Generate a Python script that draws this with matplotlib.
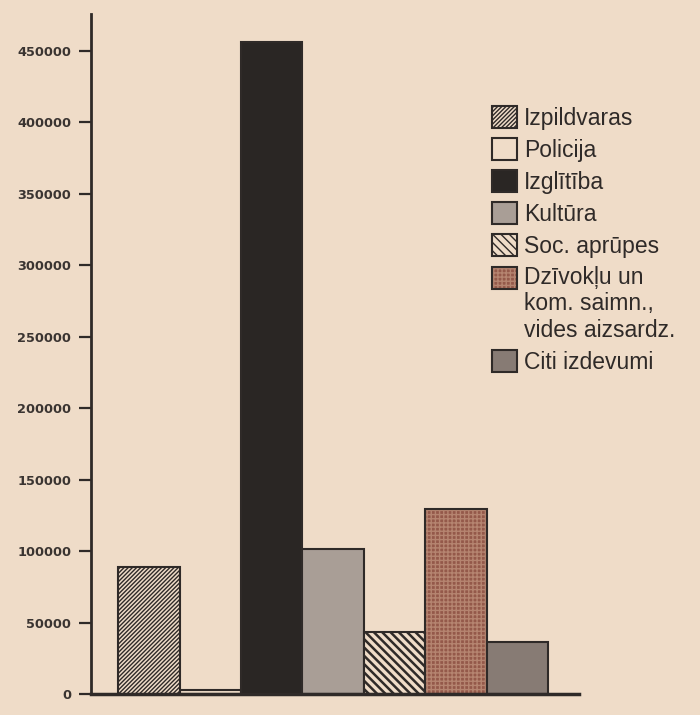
import matplotlib.pyplot as plt
from matplotlib.legend_handler import HandlerTuple

# budžeta izdevumi pa nozarēm
categories = ["Izpildvaras", "Policija", "Izglītība", "Kultūra", "Soc. aprūpes",
              "Dzīvokļu un\nkom. saimn.,\nvides aizsardz.", "Citi izdevumi"]
values = [89000, 3000, 456000, 102000, 44000, 130000, 37000]
y_ticks = [0, 50000, 100000, 150000, 200000, 250000, 300000, 350000, 400000, 450000]

paper = "#efdcc8"
ink = "#2f2a28"
fills = [paper, paper, "#2a2624", "#a99e96", paper, "#94594a", "#877b74"]
hatches = ["////////", None, None, None, "\\\\\\\\", "++++", None]
hatch_cols = [ink, ink, ink, ink, ink, "#b58470", ink]
hatch_lw = [1.0, 1.0, 1.0, 1.0, 1.8, 1.0, 1.0]


class TopHandler(HandlerTuple):
    # ruta pie pirmās rindas, ne vidū
    def create_artists(self, legend, orig_handle, xdescent, ydescent,
                       width, height, fontsize, trans):
        return super().create_artists(legend, orig_handle, xdescent,
                                      ydescent - 19.5, width, height,
                                      fontsize, trans)


fig = plt.figure(figsize=(7, 7.15), dpi=100, facecolor=paper)
ax = fig.add_axes([0.1294, 0.0287, 0.8270 - 0.1294, 0.981 - 0.0287])
ax.set_facecolor(paper)

handles = []
for i, (cat, v) in enumerate(zip(categories, values)):
    with plt.rc_context({'hatch.linewidth': hatch_lw[i]}):
        b = ax.bar(i, v, width=1.0, color=fills[i], hatch=hatches[i],
                   edgecolor=hatch_cols[i], linewidth=0)
    o = ax.bar(i, v, width=1.0, fill=False, edgecolor=ink, linewidth=1.5)
    handles.append((b[0], o[0]))

ax.set_xlim(-0.95, 7.0)
ax.set_ylim(0, 476000)
ax.set_xticks([])
ax.set_yticks(y_ticks)
ax.set_yticklabels([str(t) for t in y_ticks], fontfamily="DejaVu Sans",
                   fontweight="bold", fontsize=9.3, color="#3a3431")
ax.tick_params(axis="y", length=9, width=1.6, color=ink, pad=5)
for s in ["top", "right"]:
    ax.spines[s].set_visible(False)
ax.spines["left"].set_linewidth(2)
ax.spines["left"].set_color(ink)
ax.spines["bottom"].set_linewidth(2.5)
ax.spines["bottom"].set_color(ink)

hmap = {tuple: HandlerTuple(ndivide=1), handles[5]: TopHandler(ndivide=1)}
leg = ax.legend(handles, categories, handler_map=hmap,
                loc="upper left", bbox_to_anchor=(492 / 700, 1 - 106 / 715),
                bbox_transform=fig.transFigure, frameon=False, borderpad=0,
                borderaxespad=0, handlelength=1.1, handleheight=1.1,
                handletextpad=0.28, labelspacing=0.36,
                prop={"family": "Liberation Sans", "size": 16.5})
for t in leg.get_texts():
    t.set_color(ink)
    t.set_linespacing(1.18)

fig.savefig("out.png", dpi=100, facecolor=paper)
